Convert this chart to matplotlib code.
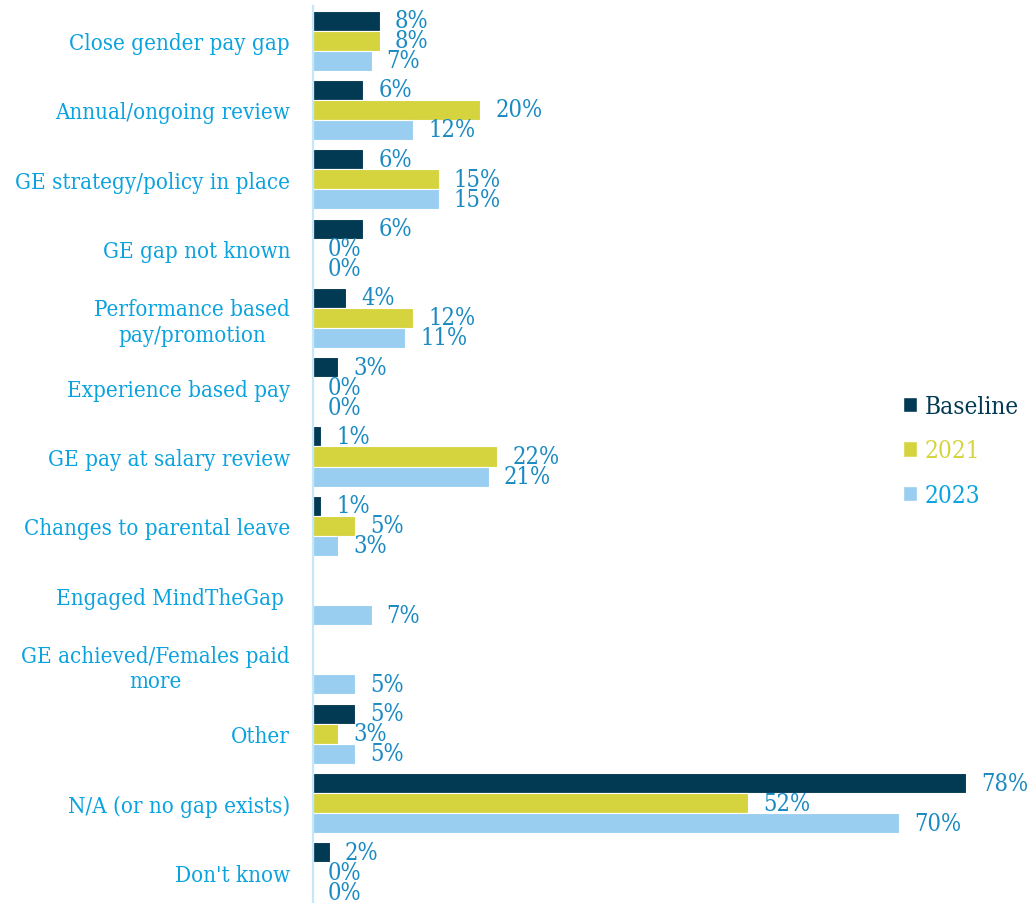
import matplotlib.pyplot as plt
import numpy as np
from matplotlib.patches import Patch

categories = ["Close gender pay gap", "Annual/ongoing review", "GE strategy/policy in place",
              "GE gap not known", "Performance based\npay/promotion", "Experience based pay",
              "GE pay at salary review", "Changes to parental leave", "Engaged MindTheGap ",
              "GE achieved/Females paid\nmore", "Other", "N/A (or no gap exists)", "Don't know"]
baseline = [8, 6, 6, 6, 4, 3, 1, 1, None, None, 5, 78, 2]
y2021 = [8, 20, 15, 0, 12, 0, 22, 5, None, None, 3, 52, 0]
y2023 = [7, 12, 15, 0, 11, 0, 21, 3, 7, 5, 5, 70, 0]
series = [("Baseline", baseline, "#033A53"), ("2021", y2021, "#D5D43F"), ("2023", y2023, "#99CEF1")]
legend_text_colors = ["#033A53", "#D5D43F", "#0AA2DF"]

plt.rcParams['font.family'] = ['DejaVu Serif']
plt.rcParams['font.stretch'] = 'condensed'
label_col = "#0AA2DF"
value_col = "#1B8AC2"
fs = 16

fig = plt.figure(figsize=(10.33, 9.04), dpi=100)
ax = fig.add_axes([313 / 1033, -4 / 904, 720 / 1033, 901 / 904])

n = len(categories)
pos = np.arange(n)
h = 0.289
for k, (name, vals, col) in enumerate(series):
    off = (k - 1) * h
    for i, v in enumerate(vals):
        if v is None:
            continue
        ax.barh(pos[i] + off, v, height=h, color=col, edgecolor="white", linewidth=0.8)
        ax.text(v + 1.8, pos[i] + off, f"{v}%", va="center", ha="left",
                color=value_col, fontsize=17)

ax.set_xlim(0, 720 / 8.37)
ax.set_ylim(n - 0.5, -0.5)
ax.set_yticks(pos)
ax.set_yticklabels(categories, color=label_col, fontsize=fs, multialignment="center")
ax.tick_params(axis="y", length=0, pad=16.5)
ax.set_xticks([])
for s in ["top", "right", "bottom"]:
    ax.spines[s].set_visible(False)
ax.spines["left"].set_color("#C6E7F8")
ax.spines["left"].set_linewidth(1.6)

handles = [Patch(facecolor=c, edgecolor="white") for _, _, c in series]
leg = fig.legend(handles, [s[0] for s in series], loc="center left",
                 bbox_to_anchor=(881 / 1033, 1 - 452 / 904), frameon=False,
                 fontsize=17.5, handlelength=0.6, handleheight=0.6, handletextpad=0.3,
                 labelspacing=0.89, labelcolor=legend_text_colors)

fig.savefig("out.png", dpi=100)
